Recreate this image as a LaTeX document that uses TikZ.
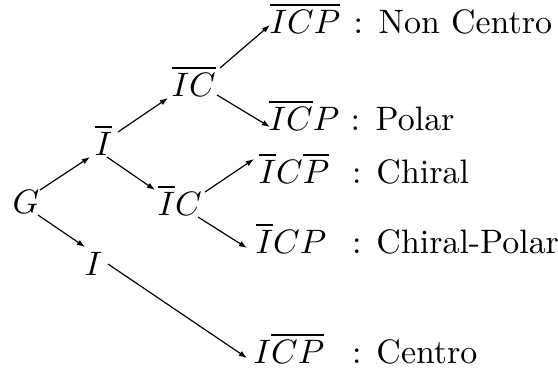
\documentclass[tikz,border=0pt]{standalone}
\usetikzlibrary{arrows.meta}
\tikzset{
  m/.style={inner sep=0pt, anchor=base west},
  lab/.style={inner sep=0pt, anchor=base west},
  arr/.style={-{Latex[length=2.4pt,width=1.7pt]}, line width=0.35pt}
}
\begin{document}
\begin{tikzpicture}[x=0.295pt, y=-0.295pt]
\useasboundingbox (0,0) rectangle (558,372);
% tree nodes
\node[m] (G)   at (12,213)  {$G$};
\node[m] (Ib)  at (94,155)  {$\overline{I}$};
\node[m] (Il)  at (84,275)  {$I$};
\node[m] (ICt) at (171,96)  {$\overline{IC}$};
\node[m] (ICm) at (157,215) {$\overline{I}C$};
\node[m] (NC)  at (269,33)  {$\overline{ICP}$};
\node[m] (Po)  at (268,130) {$\overline{IC}P$};
\node[m] (Ch)  at (258,183) {$\overline{I}C\overline{P}$};
\node[m] (CP)  at (255,253) {$\overline{I}CP$};
\node[m] (Ce)  at (253,363) {$I\overline{CP}$};
% labels
\node[lab] (lNC) at (353,33)  {:\hspace{4.6pt}Non Centro};
\node[lab] (lPo) at (350,130) {:\hspace{4.6pt}Polar};
\node[lab] (lCh) at (351.5,183) {:\hspace{4.4pt}Chiral};
\node[lab] (lCP) at (351.5,253) {:\hspace{4.4pt}Chiral-Polar};
\node[lab] (lCe) at (351.5,363) {:\hspace{4.4pt}Centro};
% connectors
\draw[arr] ([shift={(28,-23)}]G.base west)  -- ([shift={(-4,2)}]Ib.base west);
\draw[arr] ([shift={(26,2)}]G.base west)    -- ([shift={(1,-28)}]Il.base west);
\draw[arr] ([shift={(24,-23)}]Ib.base west) -- ([shift={(-3,2)}]ICt.base west);
\draw[arr] ([shift={(13,2)}]Ib.base west)   -- ([shift={(-2,-25)}]ICm.base west);
\draw[arr] ([shift={(49,-28)}]ICt.base west) -- ([shift={(1,-8)}]NC.base west);
\draw[arr] ([shift={(46,-1)}]ICt.base west) -- ([shift={(2,-3)}]Po.base west);
\draw[arr] ([shift={(48,-23)}]ICm.base west) -- ([shift={(-4,-24)}]Ch.base west);
\draw[arr] ([shift={(41,2)}]ICm.base west)  -- ([shift={(-8,-5)}]CP.base west);
\draw[arr] ([shift={(24,-11)}]Il.base west) -- ([shift={(-6,-5)}]Ce.base west);
\end{tikzpicture}
\end{document}
